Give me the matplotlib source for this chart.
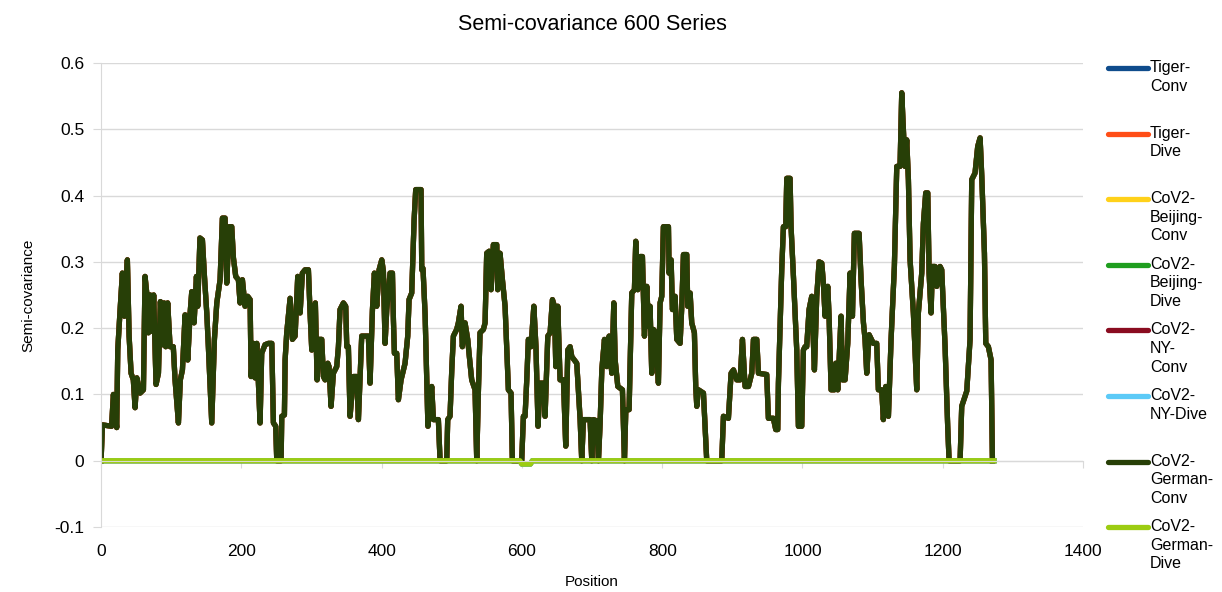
import matplotlib
matplotlib.use("Agg")
import matplotlib.pyplot as plt
from matplotlib.lines import Line2D

plt.rcParams['font.family'] = ['Liberation Sans', 'DejaVu Sans']

# Datos: posiciones y valores de la serie Conv
conv_pos = [0, 2, 15, 17.6, 22.3, 23.8, 27, 30.4, 33.3, 37.5, 40, 42.8, 46, 48.5, 51, 55.6, 60.4, 62.7,
            65.6, 67.5, 70, 73.2, 75, 77, 78.4, 81.8, 84.6, 87.5, 89.8, 92.2, 95, 98.4, 103, 105.5,
            110.3, 113, 116, 119.8, 123.6, 127, 129.3, 132.6, 136, 137.8, 141, 144.5, 147.4, 150.7,
            153, 157.8, 161.6, 165, 169.7, 173, 176.8, 179.2, 182.5, 186.3, 188.7, 192, 195.8, 198.2,
            201.5, 205.3, 209, 212.5, 213.9, 217.2, 219.6, 222, 226.7, 229, 233.8, 238.6, 243.4,
            245.7, 249, 250.5, 256.7, 257.6, 261.4, 262.4, 264.7, 269.5, 272.8, 276.6, 280.4, 283.8,
            287, 290.9, 295.6, 298, 300.4, 302.8, 305.5, 308, 310.8, 314.6, 317, 319.4, 323.2, 325,
            327.9, 331.2, 336, 338.4, 340.7, 345.5, 348.8, 350.3, 352.6, 355, 359.8, 364.5, 366.9,
            369.3, 371.6, 381.1, 383.5, 386.9, 389.7, 393, 396.4, 400.2, 402.5, 404.9, 407.3, 412,
            415.4, 416.8, 418.2, 421.5, 423.9, 427.7, 433.4, 437.2, 439.1, 442.9, 446.3, 448.6,
            456.2, 457.2, 459, 462, 466, 471.4, 473.8, 480.9, 483.3, 492.8, 494.2, 497.5, 500, 502.3,
            507, 509.4, 513.2, 515.1, 518.9, 522.7, 524.6, 528.4, 533.2, 535.6, 538, 540.3, 545.1,
            547.5, 549.8, 553.2, 556, 559.3, 564.1, 565.5, 568.8, 572.2, 576, 578.3, 580.7, 584.5,
            586.4, 599.7, 602.1, 604.5, 606.9, 609.2, 613, 617, 620, 623, 625.9, 630.7, 633, 636.9,
            640.2, 643.5, 646.4, 648.3, 651.1, 654.4, 659.2, 662.5, 665.4, 668.7, 671.1, 678.2, 683,
            685.3, 687.7, 697.2, 699.6, 702, 706.7, 709.1, 711.5, 713.9, 717.7, 721, 724.3, 728.1,
            731, 732.9, 736.7, 743.3, 746.2, 748.1, 752.8, 756.6, 760.4, 762.3, 765.2, 768.5, 771.8,
            774.7, 778, 780.4, 782.7, 785.1, 787.5, 790.8, 794.6, 797, 799.4, 801.7, 808.9, 809.8,
            812.7, 814.6, 818.4, 820.8, 825.5, 827.9, 830.3, 835, 836.4, 839.8, 842.1, 845.9, 847.8,
            849.3, 851.6, 858.8, 863.5, 884.9, 887.3, 894.4, 898.2, 901.6, 906.3, 911.1, 914.4,
            918.2, 923, 927.7, 930.1, 934.8, 937.2, 949, 951.4, 958.5, 961.9, 964.7, 965.7, 970.4,
            972.8, 976.1, 977.6, 982.3, 983.7, 987.1, 991.8, 994.2, 998.9, 1001.3, 1003.7, 1006,
            1009.4, 1013.2, 1017, 1020.3, 1023.7, 1027.5, 1029.8, 1032.2, 1036, 1037.9, 1040.8,
            1045.5, 1047.4, 1050.3, 1055, 1057, 1060.7, 1064.5, 1067.9, 1071.2, 1074, 1080.7,
            1083.5, 1086.9, 1089.2, 1091.6, 1095, 1101, 1105.8, 1108.2, 1113, 1115.3, 1118.7,
            1122.5, 1126.3, 1131, 1134.4, 1139.1, 1141.5, 1143.9, 1146.2, 1148.6, 1151, 1153.4,
            1158.1, 1162.9, 1165.2, 1170, 1172.4, 1175.7, 1178.6, 1180.5, 1183.3, 1185.2, 1189,
            1191.4, 1196.1, 1198.5, 1203.3, 1207, 1209, 1224.7, 1227, 1234.2, 1238.9, 1241.3, 1246,
            1249.8, 1253.2, 1255.6, 1259.4, 1261.3, 1265, 1268.9, 1270.8]
conv_val = [0, 0.054, 0.052, 0.10, 0.05, 0.167, 0.225, 0.283, 0.218, 0.303, 0.188, 0.132, 0.122, 0.08,
            0.125, 0.102, 0.107, 0.278, 0.248, 0.193, 0.25, 0.195, 0.25, 0.172, 0.115, 0.132, 0.24,
            0.175, 0.238, 0.172, 0.238, 0.172, 0.172, 0.122, 0.057, 0.122, 0.137, 0.22, 0.152, 0.223,
            0.255, 0.208, 0.278, 0.233, 0.336, 0.333, 0.278, 0.223, 0.172, 0.057, 0.183, 0.238, 0.273,
            0.366, 0.366, 0.268, 0.353, 0.353, 0.306, 0.278, 0.273, 0.238, 0.273, 0.233, 0.248, 0.243,
            0.127, 0.177, 0.125, 0.177, 0.057, 0.162, 0.175, 0.177, 0.177, 0.057, 0.052, 0.0, 0.0,
            0.067, 0.069, 0.152, 0.193, 0.245, 0.183, 0.188, 0.278, 0.223, 0.283, 0.288, 0.288, 0.223,
            0.167, 0.223, 0.238, 0.122, 0.183, 0.183, 0.127, 0.122, 0.147, 0.142, 0.082, 0.132, 0.142,
            0.172, 0.228, 0.238, 0.233, 0.172, 0.172, 0.067, 0.127, 0.127, 0.062, 0.127, 0.188, 0.188,
            0.117, 0.228, 0.283, 0.233, 0.288, 0.303, 0.286, 0.177, 0.228, 0.283, 0.283, 0.213, 0.162,
            0.162, 0.092, 0.122, 0.147, 0.188, 0.243, 0.253, 0.363, 0.409, 0.409, 0.288, 0.29, 0.22,
            0.052, 0.112, 0.062, 0.062, 0.0, 0.0, 0.062, 0.067, 0.137, 0.188, 0.198, 0.208, 0.233,
            0.172, 0.208, 0.183, 0.162, 0.122, 0.107, 0.0, 0.107, 0.193, 0.198, 0.208, 0.313, 0.316,
            0.258, 0.326, 0.326, 0.258, 0.313, 0.273, 0.233, 0.172, 0.107, 0.102, 0.0, 0.0, 0.067,
            0.067, 0.122, 0.183, 0.172, 0.233, 0.172, 0.052, 0.117, 0.117, 0.067, 0.188, 0.193, 0.243,
            0.233, 0.142, 0.233, 0.122, 0.122, 0.022, 0.167, 0.172, 0.157, 0.147, 0.062, 0.0, 0.062,
            0.062, 0.0, 0.062, 0.06, 0.0, 0.057, 0.137, 0.183, 0.142, 0.188, 0.132, 0.238, 0.152,
            0.112, 0.107, 0.0, 0.077, 0.077, 0.253, 0.258, 0.331, 0.258, 0.308, 0.308, 0.188, 0.263,
            0.203, 0.233, 0.132, 0.198, 0.193, 0.117, 0.238, 0.248, 0.353, 0.353, 0.283, 0.303, 0.228,
            0.248, 0.183, 0.177, 0.233, 0.311, 0.311, 0.233, 0.253, 0.208, 0.193, 0.112, 0.082, 0.107,
            0.102, 0.0, 0.0, 0.067, 0.064, 0.132, 0.137, 0.122, 0.122, 0.183, 0.112, 0.112, 0.132,
            0.183, 0.183, 0.132, 0.13, 0.064, 0.064, 0.047, 0.047, 0.117, 0.288, 0.353, 0.353, 0.426,
            0.426, 0.353, 0.278, 0.167, 0.052, 0.052, 0.167, 0.172, 0.172, 0.228, 0.248, 0.137, 0.248,
            0.30, 0.298, 0.268, 0.218, 0.263, 0.218, 0.107, 0.107, 0.147, 0.107, 0.218, 0.122, 0.122,
            0.177, 0.283, 0.218, 0.343, 0.343, 0.273, 0.208, 0.183, 0.132, 0.19, 0.177, 0.177, 0.107,
            0.107, 0.062, 0.112, 0.067, 0.183, 0.293, 0.444, 0.444, 0.555, 0.50, 0.444, 0.484, 0.424,
            0.303, 0.223, 0.107, 0.223, 0.283, 0.358, 0.404, 0.404, 0.283, 0.223, 0.293, 0.293, 0.263,
            0.293, 0.288, 0.172, 0.052, 0.0, 0.0, 0.082, 0.105, 0.183, 0.424, 0.434, 0.474, 0.487,
            0.429, 0.313, 0.177, 0.172, 0.152, 0.0]

# Serie Dive: casi siempre 0, con una pequena bajada cerca de 600
dive_pos = [0, 597, 600, 612, 615, 1273]
dive_val = [0, 0, -0.005, -0.005, 0, 0]

series = ["Tiger-Conv", "Tiger-Dive", "CoV2-Beijing-Conv", "CoV2-Beijing-Dive",
          "CoV2-NY-Conv", "CoV2-NY-Dive", "CoV2-German-Conv", "CoV2-German-Dive"]
legend_labels = ["Tiger-\nConv", "Tiger-\nDive", "CoV2-\nBeijing-\nConv", "CoV2-\nBeijing-\nDive",
                 "CoV2-\nNY-\nConv", "CoV2-\nNY-Dive", "CoV2-\nGerman-\nConv", "CoV2-\nGerman-\nDive"]
colores = ["#0f4c8c", "#ff4e17", "#ffd11a", "#1f9e1f", "#8a0c20", "#5ccaf7", "#273f07", "#9ccc12"]

fig = plt.figure(figsize=(12.22, 5.92), dpi=100)
ax = fig.add_axes([0.0827, 0.1098, 0.8036, 0.7838])

# Dibujamos las series (las de German quedan encima)
lineas = []
for nombre, color in zip(series, colores):
    if nombre.endswith("Conv"):
        l, = ax.plot(conv_pos, conv_val, color=color, lw=3.8, solid_joinstyle='round', label=nombre)
    else:
        l, = ax.plot(dive_pos, dive_val, color=color, lw=3.8, label=nombre)
    lineas.append(l)

ax.set_xlim(0, 1400)
ax.set_ylim(-0.1, 0.6)
ax.set_yticks([-0.1, 0, 0.1, 0.2, 0.3, 0.4, 0.5, 0.6])
ax.set_yticklabels(["-0.1", "0", "0.1", "0.2", "0.3", "0.4", "0.5", "0.6"])
ax.set_xticks(range(0, 1401, 200))
ax.yaxis.grid(True, color="#d9d9d9", lw=1)
ax.set_axisbelow(True)
for s in ["top", "right"]:
    ax.spines[s].set_visible(False)
ax.spines["left"].set_color("#d9d9d9")
# Eje x cruza en 0, etiquetas abajo
ax.spines["bottom"].set_position(("data", 0))
ax.spines["bottom"].set_color("#d9d9d9")
ax.tick_params(axis="x", length=5, color="#d9d9d9", labelbottom=False)
ax.tick_params(axis="y", length=6, color="#d9d9d9", labelsize=12.5, pad=6)
sec = ax.secondary_xaxis(0)
sec.set_xticks(range(0, 1401, 200))
sec.tick_params(length=0, labelsize=12.5, pad=12)
sec.spines["bottom"].set_visible(False)

ax.set_title("Semi-covariance 600 Series", fontsize=15.5, pad=24)
sec.set_xlabel("Position", fontsize=11, labelpad=12)
ax.set_ylabel("Semi-covariance", fontsize=11, labelpad=14)

# Leyenda a mano a la derecha
W, H = 1222.0, 592.0
for i, (lab, l) in enumerate(zip(legend_labels, lineas)):
    y = 68 + i * 65.6
    fig.add_artist(Line2D([1108 / W, 1148 / W], [1 - y / H, 1 - y / H], color=l.get_color(), lw=3.8,
                          solid_capstyle='round', transform=fig.transFigure))
    fig.text(1150 / W, 1 - (y - 8) / H, lab, fontsize=11.5, va="top", ha="left", linespacing=1.3)

plt.savefig("out.png", dpi=100)
